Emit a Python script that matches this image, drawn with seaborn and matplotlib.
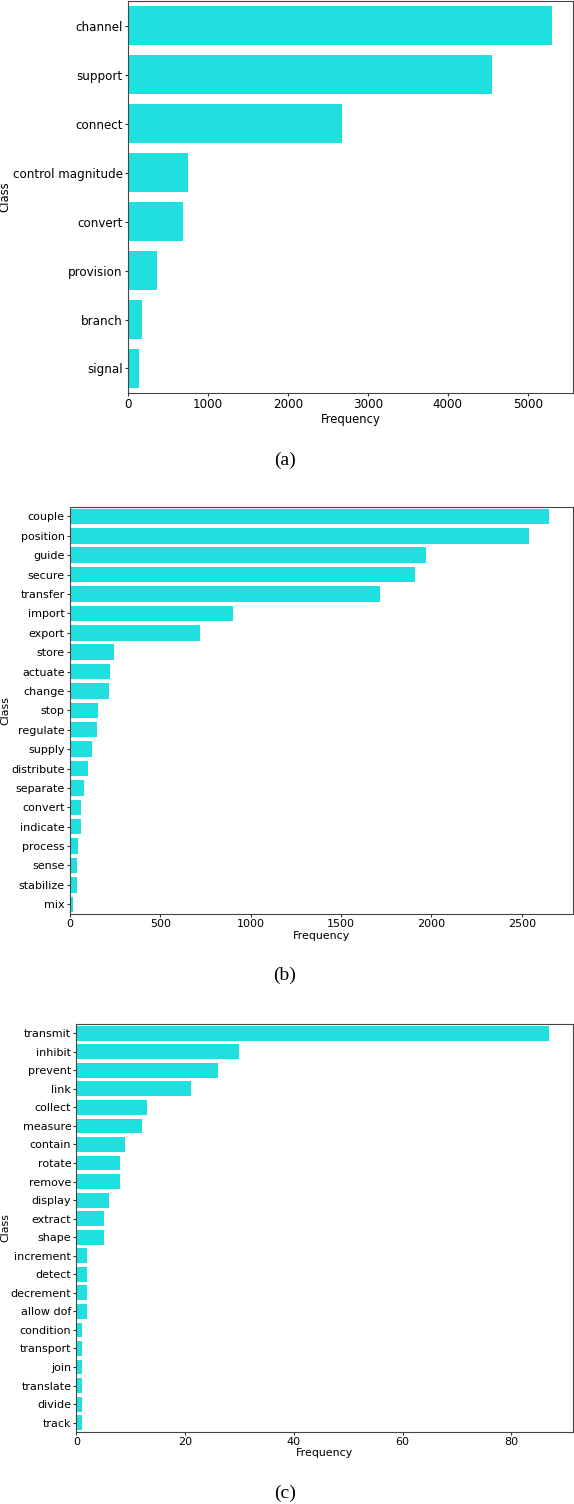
import matplotlib
matplotlib.use("Agg")
import matplotlib.pyplot as plt
import seaborn as sns
import pandas as pd

classes_a = ["channel", "support", "connect", "control magnitude", "convert",
             "provision", "branch", "signal"]
freq_a = [5303, 4550, 2679, 754, 685, 368, 184, 142]

classes_b = ["couple", "position", "guide", "secure", "transfer", "import", "export",
             "store", "actuate", "change", "stop", "regulate", "supply", "distribute",
             "separate", "convert", "indicate", "process", "sense", "stabilize", "mix"]
freq_b = [2651, 2538, 1968, 1911, 1714, 903, 720, 243, 225, 219, 158, 148, 124, 99,
          81, 63, 61, 43, 41, 39, 20]

classes_c = ["transmit", "inhibit", "prevent", "link", "collect", "measure", "contain",
             "rotate", "remove", "display", "extract", "shape", "increment", "detect",
             "decrement", "allow dof", "condition", "transport", "join", "translate",
             "divide", "track"]
freq_c = [87, 30, 26, 21, 13, 12, 9, 8, 8, 6, 5, 5, 2, 2, 2, 2, 1, 1, 1, 1, 1, 1]

captions = ["(a)", "(b)", "(c)"]

fig = plt.figure(figsize=(5.74, 15.04), dpi=100)

panels = [
    (classes_a, freq_a, [0.2226, 0.7387, 0.776, 0.2606], 8.6, 8.4, -0.262, 0.6941),
    (classes_b, freq_b, [0.1216, 0.3923, 0.8767, 0.2708], 8.0, 7.9, -0.118, 0.3517),
    (classes_c, freq_c, [0.1331, 0.0479, 0.8652, 0.2713], 8.0, 7.9, -0.133, 0.0073),
]

for (cls, fr, rect, tfs, lfs, ylx, capy), cap in zip(panels, captions):
    ax = fig.add_axes(rect)
    df = pd.DataFrame({"Class": cls, "Frequency": fr})
    sns.barplot(data=df, x="Frequency", y="Class", color="cyan", ax=ax)
    ax.tick_params(axis="both", labelsize=tfs, length=2.5, pad=1.2, color="#333333")
    ax.set_xlabel("Frequency", fontsize=lfs, labelpad=1)
    ax.set_ylabel("Class", fontsize=lfs)
    ax.yaxis.set_label_coords(ylx, 0.5)
    for s in ax.spines.values():
        s.set_color("#444444")
    fig.text(0.496, capy, cap, ha="center", va="center",
             fontsize=14, family="Liberation Serif")

fig.savefig("out.png", dpi=100)
